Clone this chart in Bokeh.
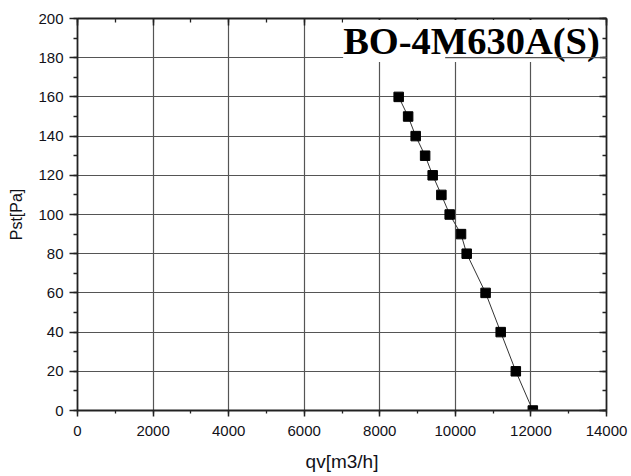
from bokeh.plotting import figure
from bokeh.models import Range1d, LinearAxis, FixedTicker, Label
from bokeh.embed import file_html
from bokeh.resources import INLINE

# ---- data ----
qv = [8500, 8750, 8950, 9200, 9400, 9630, 9850, 10150, 10300, 10800, 11200, 11600, 12050]
pst = [160, 150, 140, 130, 120, 110, 100, 90, 80, 60, 40, 20, 0]
x_major = list(range(0, 14001, 2000))
x_minor = list(range(0, 14001, 1000))
y_major = list(range(0, 201, 20))
y_minor = list(range(0, 201, 10))
title_text = "BO-4M630A(S)"
x_label = "qv[m3/h]"
y_label = "Pst[Pa]"

# ---- styling constants ----
AXIS_COLOR = "#222222"
GRID_COLOR = "#555555"
LABEL_COLOR = "#111118"
FONT = "Liberation Sans"
TITLE_X = 7030          # data x of title's left edge
TITLE_Y = 188.5         # data y used for title placement
UNDERLINE_FROM = 9730   # visible part of 180 gridline under title

p = figure(width=631, height=476,
           x_range=Range1d(0, 14000), y_range=Range1d(0, 200),
           output_backend="svg", toolbar_location=None,
           x_axis_label=x_label, y_axis_label=y_label,
           min_border_left=77, min_border_right=25,
           min_border_top=18, min_border_bottom=66)
p.outline_line_color = None
p.background_fill_color = "white"
p.border_fill_color = "white"

xt = FixedTicker(ticks=x_major, minor_ticks=x_minor)
yt = FixedTicker(ticks=y_major, minor_ticks=y_minor)

def style_axis(ax, tick_in, tick_out, mtick_in, mtick_out):
    ax.axis_line_color = AXIS_COLOR
    ax.axis_line_width = 1.8
    ax.major_tick_line_color = AXIS_COLOR
    ax.major_tick_line_width = 1.5
    ax.minor_tick_line_color = AXIS_COLOR
    ax.minor_tick_line_width = 1.3
    ax.major_tick_in = tick_in
    ax.major_tick_out = tick_out
    ax.minor_tick_in = mtick_in
    ax.minor_tick_out = mtick_out
    ax.major_label_text_font = FONT
    ax.major_label_text_font_size = "15px"
    ax.major_label_text_color = LABEL_COLOR
    ax.axis_label_text_font = FONT
    ax.axis_label_text_font_style = "normal"
    ax.axis_label_text_color = LABEL_COLOR

bx = p.xaxis[0]
bx.ticker = xt
style_axis(bx, 0, 6, 0, 3)
bx.major_label_standoff = 9
bx.axis_label_standoff = 12
bx.axis_label_text_font_size = "19px"

ly = p.yaxis[0]
ly.ticker = yt
style_axis(ly, 0, 8, 0, 4)
ly.major_label_standoff = 6
ly.axis_label_standoff = 10
ly.axis_label_text_font_size = "16px"

top = LinearAxis(ticker=FixedTicker(ticks=x_major, minor_ticks=x_minor))
style_axis(top, 7, 0, 4, 0)
top.major_label_overrides = {t: "" for t in x_major}
top.major_label_standoff = 0
p.add_layout(top, "above")

right = LinearAxis(ticker=FixedTicker(ticks=y_major, minor_ticks=y_minor))
style_axis(right, 7, 0, 4, 0)
right.major_label_overrides = {t: "" for t in y_major}
right.major_label_standoff = 0
p.add_layout(right, "right")

p.xgrid.ticker = xt
p.ygrid.ticker = yt
for g in (p.xgrid[0], p.ygrid[0]):
    g.grid_line_color = GRID_COLOR
    g.grid_line_width = 1.2

p.line(qv, pst, line_color="#333333", line_width=1)
p.scatter(qv, pst, marker="square", size=9.5, fill_color="black", line_color="black")

title = Label(x=TITLE_X, y=TITLE_Y, x_units="data", y_units="data",
              text=title_text, text_font="Liberation Serif",
              text_font_style="bold", text_font_size="38.5px",
              text_color="black", text_baseline="alphabetic", text_align="left",
              background_fill_color="white", background_fill_alpha=1.0)
p.add_layout(title)

ul = p.segment(x0=[UNDERLINE_FROM], y0=[y_major[9]], x1=[x_major[-1]], y1=[y_major[9]],
               line_color=GRID_COLOR, line_width=1.2)
ul.level = "overlay"

open("out.html", "w").write(file_html(p, INLINE))
